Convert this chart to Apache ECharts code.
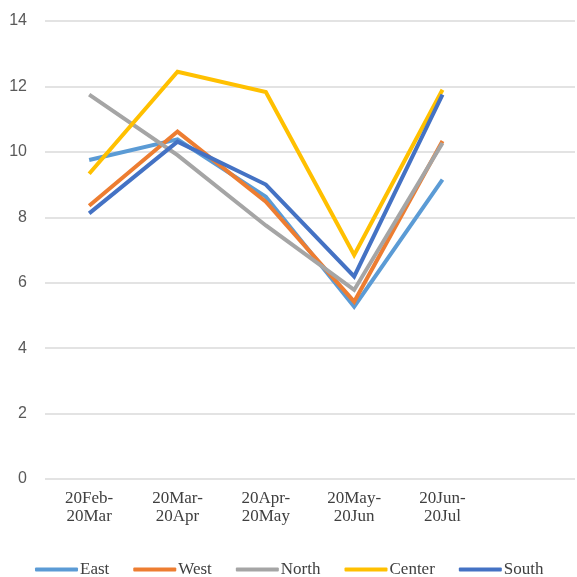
<!DOCTYPE html>
<html><head><meta charset="utf-8">
<script src="https://cdn.jsdelivr.net/npm/echarts@6/dist/echarts.min.js"></script>
<style>html,body{margin:0;padding:0;background:#fff}#c{width:577px;height:577px}</style>
</head><body><div id="c"></div>
<script>
const categories = ["20Feb-\n20Mar","20Mar-\n20Apr","20Apr-\n20May","20May-\n20Jun","20Jun-\n20Jul",""];
const seriesNames = ["East","West","North","Center","South"];
const east   = [9.75, 10.38, 8.63, 5.27, 9.15];
const west   = [8.35, 10.62, 8.48, 5.42, 10.33];
const north  = [11.75, 9.9, 7.75, 5.78, 10.27];
const center = [9.33, 12.45, 11.83, 6.85, 11.9];
const south  = [8.12, 10.31, 9.0, 6.19, 11.75];
const colors = ["#5B9BD5","#ED7D31","#A5A5A5","#FFC000","#4472C4"];
const yTicks = {min:0, max:14, interval:2};

const data = [east, west, north, center, south];
const chart = echarts.init(document.getElementById('c'), null, {renderer:'canvas'});
chart.setOption({
  animation:false,
  backgroundColor:'#fff',
  grid:{left:45, right:2, top:21, bottom:98, containLabel:false},
  legend:{
    top:561, left:35, itemWidth:43, itemHeight:4, itemGap:24, padding:0,
    icon:'roundRect',
    textStyle:{fontFamily:'Liberation Serif', fontSize:17, color:'#404040', padding:[0,0,0,-3]},
    data:seriesNames
  },
  xAxis:{
    type:'category', data:categories, boundaryGap:true,
    axisLine:{show:false}, axisTick:{show:false},
    axisLabel:{fontFamily:'Liberation Serif', fontSize:17, color:'#404040', lineHeight:18, margin:11, interval:0}
  },
  yAxis:{
    type:'value', min:yTicks.min, max:yTicks.max, interval:yTicks.interval,
    axisLine:{show:false}, axisTick:{show:false},
    splitLine:{lineStyle:{color:'#E3E3E3', width:2}},
    axisLabel:{fontFamily:'Liberation Sans', fontSize:16, color:'#595959', margin:18}
  },
  series: seriesNames.map((n,i)=>({
    name:n, type:'line', data:data[i], symbol:'none',
    lineStyle:{color:colors[i], width:4, join:'miter'},
    itemStyle:{color:colors[i]}
  }))
});
</script></body></html>
